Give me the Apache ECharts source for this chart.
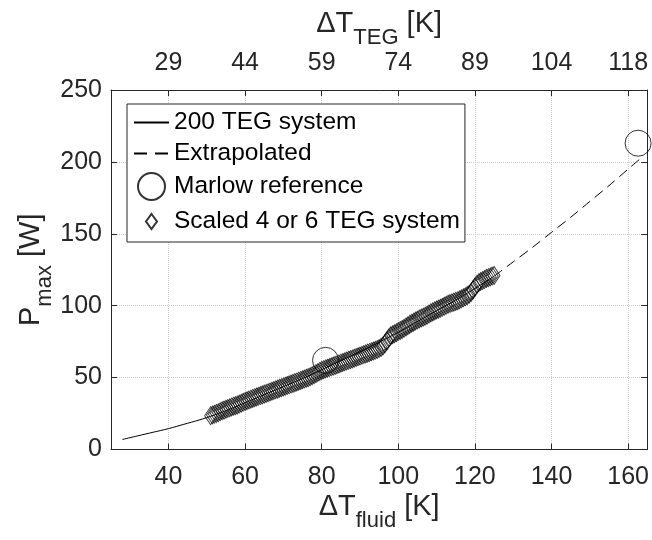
<!DOCTYPE html>
<html><head><meta charset="utf-8">
<script src="https://cdn.jsdelivr.net/npm/echarts@6/dist/echarts.min.js"></script>
<style>html,body{margin:0;padding:0;background:#fff}#c{width:652px;height:540px}</style>
</head><body><div id="c"></div>
<script>
// Tick positions and labels
const xTicks = [40, 60, 80, 100, 120, 140, 160];
const topTickLabels = ['29', '44', '59', '74', '89', '104', '118'];

// 200 TEG system (solid)
const solidX = [28, 32, 36, 40, 44, 48, 52, 56, 60, 64, 68, 72, 76, 80, 84, 88, 92, 96, 100, 104, 108, 112, 116, 120, 125];
const solidY = [7, 9.5, 12, 14.5, 17.5, 20.5, 24, 28, 32.5, 37, 41.5, 46, 50.5, 55.5, 60.5, 65.5, 70.5, 76, 81.5, 87.5, 93.5, 99.5, 105.5, 112, 120.5];

// Extrapolated (dashed)
const extrapX = [125, 130, 135, 140, 145, 150, 155, 160, 163.5];
const extrapY = [120.5, 130.5, 140.5, 151, 161.5, 172.5, 183.5, 195, 203];

// Marlow reference
const marlowX = [81, 162.6];
const marlowY = [62, 213];

// Scaled 4 or 6 TEG system
const scaledX = [51, 51.5, 52, 52.5, 53, 53.5, 54, 54.5, 55, 55.5, 56, 56.5, 57, 57.5, 58, 58.5, 59, 59.5, 60, 60.5,
  61, 61.5, 62, 62.5, 63, 63.5, 64, 64.5, 65, 65.5, 66, 66.5, 67, 67.5, 68, 68.5, 69, 69.5, 70, 70.5,
  71, 71.5, 72, 72.5, 73, 73.5, 74, 74.5, 75, 75.5, 76, 76.5, 77, 77.5, 78, 78.5, 79, 79.5, 80, 80.5,
  81, 81.5, 82, 82.5, 83, 83.5, 84, 84.5, 85, 85.5, 86, 86.5, 87, 87.5, 88, 88.5, 89, 89.5, 90, 90.5,
  91, 91.5, 92, 92.5, 93, 93.5, 94, 94.5, 95, 95.5, 96, 96.5, 97, 97.5, 98, 98.5, 99, 99.5, 100, 100.5,
  101, 101.5, 102, 102.5, 103, 103.5, 104, 104.5, 105, 105.5, 106, 106.5, 107, 107.5, 108, 108.5, 109, 109.5, 110, 110.5,
  111, 111.5, 112, 112.5, 113, 113.5, 114, 114.5, 115, 115.5, 116, 116.5, 117, 117.5, 118, 118.5, 119, 119.5, 120, 120.5,
  121, 121.5, 122, 122.5, 123, 123.5, 124, 124.5, 125];
const scaledY = [23.5, 24, 24.5, 25.1, 25.6, 26.3, 27, 27.4, 28, 28.5, 29, 29.6, 30.1, 30.5, 31, 31.6, 32.2, 32.8, 33.4, 33.9,
  34.4, 35, 35.5, 36, 36.5, 37, 37.5, 38, 38.5, 39, 39.5, 40, 40.5, 41, 41.5, 42, 42.6, 43, 43.5, 44,
  44.5, 45, 45.5, 46, 46.5, 47, 47.5, 48, 48.5, 49, 49.6, 50, 50.6, 51.3, 52, 52.7, 53.5, 54.3, 55, 55.5,
  56, 56.5, 57, 57.5, 58, 58.5, 59, 59.5, 60, 60.5, 61, 61.5, 62, 62.5, 63, 63.5, 64, 64.5, 65, 65.5,
  66, 66.5, 67, 67.5, 68, 68.5, 69, 69.6, 70.2, 71, 72, 73.5, 75.5, 77.5, 79, 79.8, 80.5, 81.2, 82, 82.8,
  83.5, 84.3, 85.2, 86, 87, 87.8, 88.5, 89.3, 90, 90.8, 91.5, 92, 92.7, 93.4, 94.2, 95, 95.7, 96.4, 97, 97.6,
  98.2, 98.9, 99.6, 100.3, 101, 101.5, 102, 102.5, 103, 103.5, 104.1, 104.8, 105.5, 106.2, 107, 108, 109.2, 111, 113, 114.8,
  116, 116.8, 117.5, 118.2, 119, 119.5, 120, 120.6, 121];

const F = '"Liberation Sans", Arial, Helvetica, sans-serif';
const C = '#262626';
const zip = (xs, ys) => xs.map((x, i) => [x, ys[i]]);

const nameRich = {
  a: {fontSize: 29, fontFamily: F, color: C, verticalAlign: 'middle', lineHeight: 30, padding: [0, 0, 14, 0]},
  s: {fontSize: 22, fontFamily: F, color: C, verticalAlign: 'middle', lineHeight: 22, padding: [14, 0, 0, 0]}
};
const hidden = {color: 'transparent', borderColor: 'transparent', borderWidth: 0};

const chart = echarts.init(document.getElementById('c'));
chart.setOption({
  animation: false,
  grid: {left: 111, right: 4, top: 90, bottom: 88},
  legend: {
    orient: 'vertical', left: 127, top: 104,
    itemWidth: 35, itemHeight: 27, itemGap: 6, itemTextGap: 7,
    padding: [6, 5, 6, 6],
    borderColor: C, borderWidth: 1, backgroundColor: '#fff',
    selectedMode: false,
    textStyle: {fontSize: 24.5, fontFamily: F, color: '#000'},
    data: [
      {name: '200 TEG system', itemStyle: hidden},
      {name: 'Extrapolated', itemStyle: hidden, lineStyle: {type: [13, 8]}},
      {name: 'Marlow reference', icon: 'circle'},
      {name: 'Scaled 4 or 6 TEG system', icon: 'path://M0,0M35,27M17.5,6L23,13.5L17.5,21L12,13.5Z'}
    ]
  },
  xAxis: [{
    type: 'value', min: 25, max: 165, position: 'bottom',
    axisLine: {show: true, onZero: false, lineStyle: {color: C}},
    axisTick: {show: true, inside: true, length: 6, customValues: xTicks, lineStyle: {color: C}},
    axisLabel: {customValues: xTicks, fontSize: 25, fontFamily: F, color: C, margin: 15},
    splitLine: {show: true, lineStyle: {type: 'dotted', color: '#cfcfcf'}},
    name: '{a|ΔT}{s|fluid}{a| [K]}', nameLocation: 'middle', nameGap: 49, nameMoveOverlap: false,
    nameTextStyle: {rich: nameRich}
  }, {
    type: 'value', min: 25, max: 165, position: 'top',
    axisLine: {show: true, onZero: false, lineStyle: {color: C}},
    axisTick: {show: true, inside: true, length: 6, customValues: xTicks, lineStyle: {color: C}},
    axisLabel: {customValues: xTicks, fontSize: 25, fontFamily: F, color: C, margin: 14,
      formatter: (v) => { const i = xTicks.indexOf(v); return i >= 0 ? topTickLabels[i] : ''; }},
    splitLine: {show: false},
    name: '{a|ΔT}{s|TEG}{a| [K]}', nameLocation: 'middle', nameGap: 44, nameMoveOverlap: false,
    nameTextStyle: {rich: nameRich}
  }],
  yAxis: [{
    type: 'value', min: 0, max: 250, interval: 50, position: 'left',
    axisLine: {show: true, onZero: false, lineStyle: {color: C}},
    axisTick: {show: true, inside: true, length: 6, lineStyle: {color: C}},
    axisLabel: {fontSize: 25, fontFamily: F, color: C, margin: 9},
    splitLine: {show: true, lineStyle: {type: 'dotted', color: '#cfcfcf'}},
    name: '{a|P}{s|max}{a| [W]}', nameLocation: 'middle', nameGap: 58, nameRotate: 90, nameMoveOverlap: false,
    nameTextStyle: {rich: nameRich}
  }, {
    type: 'value', min: 0, max: 250, interval: 50, position: 'right',
    axisLine: {show: true, onZero: false, lineStyle: {color: C}},
    axisTick: {show: true, inside: true, length: 6, lineStyle: {color: C}},
    axisLabel: {show: false},
    splitLine: {show: false}
  }],
  series: [{
    name: '200 TEG system', type: 'line', data: zip(solidX, solidY), smooth: 0.3,
    symbol: 'none', lineStyle: {color: '#000', width: 1}, itemStyle: {color: '#000'}, z: 3
  }, {
    name: 'Extrapolated', type: 'line', data: zip(extrapX, extrapY), smooth: 0.3,
    symbol: 'none', lineStyle: {color: '#000', width: 1, type: [10, 6]}, itemStyle: {color: '#000'}, z: 3
  }, {
    name: 'Scaled 4 or 6 TEG system', type: 'scatter', data: zip(scaledX, scaledY),
    symbol: 'diamond', symbolSize: [12, 18],
    itemStyle: {color: 'transparent', borderColor: '#000', borderWidth: 0.9}, z: 4
  }, {
    name: 'Marlow reference', type: 'scatter', data: zip(marlowX, marlowY),
    symbol: 'circle', symbolSize: 26,
    itemStyle: {color: 'transparent', borderColor: '#000', borderWidth: 1}, z: 5
  }]
});
</script></body></html>
